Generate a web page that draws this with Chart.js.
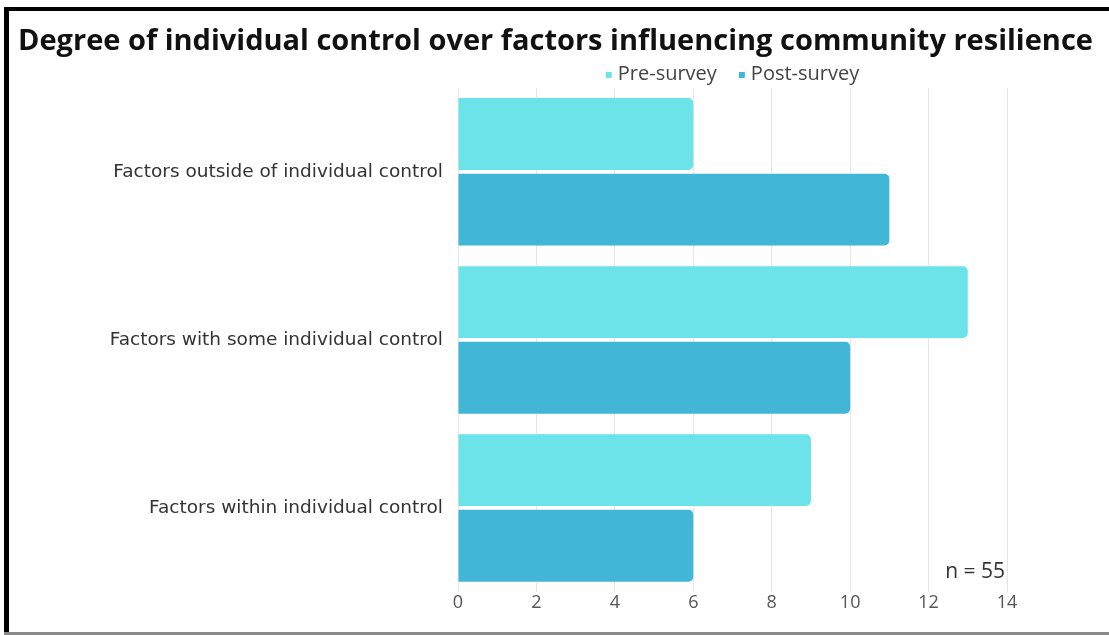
<!DOCTYPE html>
<html>
<head>
<meta charset="utf-8">
<script src="https://cdn.jsdelivr.net/npm/chart.js@4"></script>
<style>
  html, body { margin: 0; padding: 0; background: #fff; }
  #wrap { width: 1109px; height: 635px; position: relative; }
</style>
</head>
<body>
<div id="wrap"><canvas id="controlChart" width="1109" height="635"></canvas></div>
<script>
const categories = [
  "Factors outside of individual control",
  "Factors with some individual control",
  "Factors within individual control",
];
const seriesNames = ["Pre-survey", "Post-survey"];
const preSurvey = [6, 13, 9];
const postSurvey = [11, 10, 6];
const seriesColors = ["#6CE3E8", "#41B6D6"];
const sampleNote = "n = 55";

const FONT = "'Open Sans', 'Noto Sans', sans-serif";
const LABEL_FONT = "'DejaVu Sans', 'Open Sans', sans-serif";

// frame around the picture
const framePlugin = {
  id: "frame",
  afterDraw(chart) {
    const ctx = chart.ctx;
    ctx.save();
    ctx.fillStyle = "#000";
    ctx.fillRect(4, 7, 5, 628);
    ctx.fillRect(4, 7, 1105, 4);
    ctx.fillStyle = "#8a8a8a";
    ctx.fillRect(4, 632, 1105, 3);
    ctx.restore();
  },
};

// legend centred over the plot area, small square markers
const legendPlugin = {
  id: "centredLegend",
  afterDraw(chart) {
    const ctx = chart.ctx;
    const area = chart.chartArea;
    ctx.save();
    ctx.font = "20px " + FONT;
    ctx.textBaseline = "middle";
    const gap = 22;
    const box = 6;
    const items = chart.data.datasets.map((ds) => ({
      label: ds.label,
      color: ds.backgroundColor,
      w: box + 6 + ctx.measureText(ds.label).width,
    }));
    const total = items.reduce((s, it) => s + it.w, 0) + gap * (items.length - 1);
    let x = (area.left + area.right) / 2 - total / 2;
    const y = 74;
    items.forEach((it) => {
      ctx.fillStyle = it.color;
      ctx.fillRect(x, y - box / 2 + 1, box, box);
      ctx.fillStyle = "#444";
      ctx.textAlign = "left";
      ctx.fillText(it.label, x + box + 6, y);
      x += it.w + gap;
    });
    ctx.restore();
  },
};

// sample size note in the lower right of the plot
const notePlugin = {
  id: "sampleNote",
  afterDraw(chart) {
    const ctx = chart.ctx;
    const xs = chart.scales.x;
    ctx.save();
    ctx.font = "21px " + FONT;
    ctx.fillStyle = "#333";
    ctx.textAlign = "right";
    ctx.textBaseline = "alphabetic";
    ctx.fillText(sampleNote, xs.getPixelForValue(14) - 2, chart.chartArea.bottom - 14);
    ctx.restore();
  },
};

new Chart(document.getElementById("controlChart"), {
  type: "bar",
  data: {
    labels: categories,
    datasets: [
      { label: seriesNames[0], data: preSurvey, backgroundColor: seriesColors[0] },
      { label: seriesNames[1], data: postSurvey, backgroundColor: seriesColors[1] },
    ].map((ds) => ({
      ...ds,
      borderRadius: 5,
      borderSkipped: "start",
      categoryPercentage: 0.9,
      barPercentage: 0.95,
    })),
  },
  options: {
    indexAxis: "y",
    responsive: false,
    animation: false,
    layout: { padding: { left: 18, right: 8, top: 24, bottom: 13 } },
    plugins: {
      legend: { display: false },
      tooltip: { enabled: false },
      title: {
        display: true,
        text: "Degree of individual control over factors influencing community resilience",
        align: "start",
        color: "#111",
        font: { family: FONT, size: 29, weight: "bold" },
        padding: { top: 0, bottom: 29 },
      },
    },
    scales: {
      x: {
        min: 0,
        max: 14,
        ticks: {
          stepSize: 2,
          color: "#555",
          padding: 0,
          font: { family: FONT, size: 18 },
        },
        grid: { color: "#e6e6e6", drawTicks: false },
        border: { display: false },
        afterFit: (s) => { s.height = 30; },
      },
      y: {
        ticks: {
          color: "#333",
          padding: 7,
          font: { family: LABEL_FONT, size: 18.5 },
        },
        grid: { display: false },
        border: { display: false },
        afterFit: (s) => { s.width = 440; },
      },
      // empty right-hand axis, only keeps white space right of the plot
      yRight: {
        position: "right",
        ticks: { display: false },
        grid: { display: false },
        border: { display: false },
        afterFit: (s) => { s.width = 94; },
      },
    },
  },
  plugins: [framePlugin, legendPlugin, notePlugin],
});
</script>
</body>
</html>
